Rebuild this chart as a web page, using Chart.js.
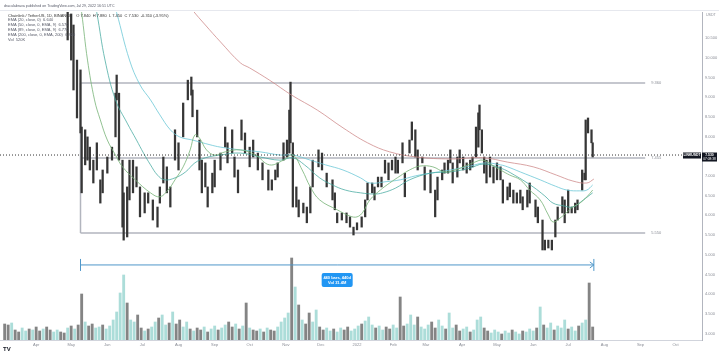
<!DOCTYPE html>
<html>
<head>
<meta charset="utf-8">
<script src="https://cdn.jsdelivr.net/npm/chart.js@4.4.1/dist/chart.umd.min.js"></script>
<style>
  html, body { margin: 0; padding: 0; background: #ffffff; overflow: hidden; }
</style>
</head>
<body>
<canvas id="priceChart" width="719" height="353"></canvas>
<script>
// days are counted from 2021-03-01 (day 0)
const candleDays = [58,61,63,66,69,70,73,75,77,80, 83,86,88,92,96,99,100,102,105,106,
  109,111,114,117,120,124,127,131,135,137, 140,143,146,150,153,157,161,164,165,169,
  171,173,176,178,182,184,189,193,195,199, 201,204,207,210,214,217,221,225,230,233,
  236,238,243,246,248,249,251,254,256,260, 263,266,268,273,276,280,285,287,289,293,
  297,300,303,306,310,313,315,319,321,324, 327,330,333,336,339,341,345,347,351,353,
  356,358,362,364,369,373,375,379,381,384, 386,388,392,394,397,400,403,405,408,410,
  411,413,415,417,420,423,426,429,431,435, 437,440,443,446,448,452,454,459,461,465,
  467,470,473,476,478,482,484,487,490,493, 495,499,501,502,504,507,508];
const candleHigh = [11.16,11.11,10.83,9.94,9.69,8.24,8.17,7.99,7.73,7.40, 7.84,6.90,7.15,7.48,7.73,9.10,9.56,9.10,7.40,6.57,
  6.72,7.40,7.40,7.23,6.72,6.57,6.57,6.39,6.21,6.72, 7.48,7.23,6.72,8.17,7.84,8.85,9.43,9.51,9.18,8.67,
  7.91,7.40,7.33,6.72,7.07,7.40,7.58,8.24,7.84,8.17, 7.48,7.15,8.42,8.09,7.73,7.91,7.58,7.33,7.15,6.90,
  7.15,7.33,7.84,7.91,8.67,9.38,7.84,6.72,6.39,6.31, 6.21,6.72,7.40,7.66,7.58,7.07,6.90,6.57,6.06,6.06,
  6.06,5.96,5.70,5.81,5.96,6.39,6.82,6.82,6.72,6.97, 6.97,7.40,7.33,7.40,7.48,7.40,7.84,7.07,7.91,8.37,
  8.17,7.66,7.48,7.23,7.15,6.64,6.97,7.15,7.33,7.40, 7.66,7.33,7.48,7.66,7.48,7.33,7.40,7.48,8.24,8.60,
  8.80,8.17,7.48,7.40,7.48,7.23,7.33,7.23,6.90,6.72, 6.82,6.64,6.57,6.64,6.47,6.64,6.82,6.39,6.21,5.88,
  5.37,5.37,5.37,5.88,6.21,6.47,6.39,6.64,6.21,6.31, 6.39,7.15,7.07,8.42,8.47,8.17,7.84];
const candleLow = [10.45,9.94,9.18,8.47,8.09,6.57,7.28,7.40,7.15,6.82, 7.15,6.31,6.57,7.07,7.40,7.99,8.93,7.40,5.70,5.37,
  5.45,6.39,6.57,6.72,5.96,6.06,6.31,5.88,5.70,6.31, 6.82,6.57,6.21,7.40,7.15,7.99,8.93,9.05,8.50,7.99,
  7.15,6.57,6.72,6.21,6.57,6.72,7.15,7.73,7.33,7.58, 6.97,6.57,7.91,7.58,7.23,7.48,7.15,6.90,6.64,6.64,
  6.90,6.97,7.40,7.48,7.58,7.84,6.21,6.21,5.96,6.06, 5.81,6.06,6.72,7.23,7.15,6.72,6.39,6.14,5.81,5.88,
  5.81,5.70,5.50,5.63,5.70,5.96,6.39,6.57,6.39,6.72, 6.72,7.07,6.90,7.15,7.07,7.07,7.33,6.47,7.58,7.91,
  7.48,7.15,7.33,6.64,6.57,5.96,6.39,6.90,7.07,7.07, 7.33,6.82,6.97,7.33,7.15,7.07,7.15,7.23,7.48,7.73,
  8.17,7.58,7.07,6.82,6.97,6.82,6.90,6.90,6.31,6.39, 6.47,6.31,6.31,6.31,6.14,6.21,6.31,5.96,5.81,5.12,
  5.12,5.17,5.12,5.45,5.88,6.06,5.81,6.06,6.06,6.06, 6.14,6.64,6.90,6.90,8.09,7.84,7.48];

// moving averages
const ema20Days = [67,70,75,81,86,92,99,105,116,129,137,144,150,157,163,167,171,177,184,193,206,219,231,243,251,259,266,274,289,300,
  306,311,317,326,334,343,351,360,371,381,390,399,407,414,423,429,437,446,454,463,470,474,480,486,491,497,503,508];
const ema20 = [11.72,11.14,9.94,8.93,8.42,7.91,7.53,7.23,6.90,6.57,6.47,6.64,6.90,7.23,7.66,8.04,7.96,7.66,7.53,7.61,7.66,7.53,7.28,7.40,7.53,7.15,6.72,6.39,6.14,5.98,
  5.96,6.08,6.39,6.64,6.82,7.00,7.15,7.25,7.23,7.10,7.15,7.25,7.35,7.40,7.25,7.15,7.02,6.90,6.64,6.39,6.01,5.83,5.93,6.08,6.21,6.31,6.47,6.64];
const ema50Days = [79,83,90,99,109,117,123,129,135,141,150,159,167,176,189,206,223,240,251,261,274,285,296,309,321,328,339,351,369,386,403,414,429,441,457,467,474,483,491,500,508];
const ema50 = [11.72,11.14,9.94,8.93,8.34,7.91,7.58,7.28,7.02,6.90,6.95,7.10,7.33,7.46,7.53,7.58,7.48,7.40,7.46,7.28,6.95,6.77,6.64,6.57,6.54,6.57,6.69,6.90,7.07,7.10,7.20,7.30,7.20,7.02,6.72,6.49,6.31,6.24,6.21,6.39,6.57];
const ema89Days = [94,100,111,120,129,137,146,154,165,180,189,206,223,240,251,266,279,294,309,317,330,343,356,369,386,403,416,429,435,446,463,476,486,497,503,508];
const ema89 = [11.72,11.14,9.94,9.31,8.93,8.55,8.17,7.99,7.91,7.79,7.73,7.66,7.61,7.53,7.53,7.40,7.28,7.15,6.95,6.82,6.85,6.90,7.00,7.07,7.15,7.25,7.33,7.28,7.23,7.10,6.90,6.74,6.64,6.62,6.64,6.77];
const ema200Days = [150,159,165,176,189,206,214,231,250,272,294,315,334,357,386,414,435,457,477,491,503,509];
const ema200 = [11.97,11.47,11.21,10.83,10.40,9.87,9.74,9.43,9.05,8.67,8.22,7.84,7.61,7.48,7.43,7.46,7.35,7.23,7.02,6.87,6.82,6.92];

// volume, one bar per 3-day period starting at day 4 (thousands)
const volStartDay = 4;
const volStepDays = 3;
const volume = [640,600,680,400,320,480,360,440,400,520, 360,440,520,400,320,400,320,280,480,560,
  440,600,1840,720,560,640,480,520,600,440, 560,800,1120,1880,2600,1480,800,720,1000,480,
  360,440,520,720,880,1000,600,680,1120,640, 800,520,720,440,360,480,400,520,320,440,
  560,400,480,600,720,520,640,440,560,1480, 480,400,360,440,320,480,400,360,520,720,
  880,1080,3280,2120,1400,800,640,1080,720,1200, 520,400,480,360,440,320,480,400,520,360,
  440,560,640,760,920,600,480,560,400,520, 440,600,480,1720,560,640,1000,600,920,520,
  440,600,720,480,800,560,440,1080,480,600, 360,440,520,320,400,800,920,480,360,280,
  400,320,240,360,280,400,320,240,360,320, 440,360,480,1320,600,480,680,400,560,480,
  800,440,520,360,560,680,800,2280,520];
const volDir = "ddudduudud" + "dudduuddud" + "uddudduudu" + "uuuuuduudd" + "uduuduudud" +
  "duududdudu" + "uduuddudud" + "uddududduu" + "uudududduu" + "dduuduuddu" +
  "uuduuuduud" + "duudduuudu" + "uudduuduud" + "duuduuuddu" + "uuduuduudu" +
  "uududuuduu" + "uduuduudd";

// axes
const priceMin = 2.835;
const priceMax = 11.16;
const volMax = 13120;
const dayMax = 601.7;
const priceTicks = [10.5,10.0,9.5,9.0,8.5,8.0,7.5,7.0,6.5,6.0,5.5,5.0,4.5,4.0,3.5,3.0];
const monthDays = [31,61,92,122,153,184,214,245,275,306,337,365,396,426,457,487,518,549,579];
const monthLabels = ["Apr","May","Jun","Jul","Aug","Sep","Oct","Nov","Dec","2022","Feb","Mar","Apr","May","Jun","Jul","Aug","Sep","Oct"];

// drawings
const rangeLevels = [9.36, 7.455, 5.55];
const rangeLabels = ["9.360", "7.455", "5.550"];
const rangeFromDay = 69;
const rangeToDay = 553;
const lastPrice = 7.53;
const measureFromDay = 69;
const measureToDay = 509;
const measurePrice = 4.74;
const measureText = ["440 bars, 440d", "Vol 31.4M"];

const headerText = "draculabrava published on TradingView.com, Jul 29, 2022 16:51 UTC";
const legendLines = [
  "Chainlink / TetherUS, 1D, BINANCE    O 7.840  H 7.880  L 7.450  C 7.530  -0.310 (-3.95%)",
  "EMA (20, close, 0)  6.640",
  "EMA (50, close, 0, EMA, 9)  6.570",
  "EMA (89, close, 0, EMA, 9)  6.770",
  "EMA (200, close, 0, EMA, 200)  6.920",
  "Vol  520K"
];

const FONT = "'Liberation Sans', Arial, sans-serif";

const overlayPlugin = {
  id: "overlay",
  beforeDatasetsDraw(chart) {
    const { ctx, scales } = chart;
    const x = scales.x, y = scales.y;
    const x0 = x.getPixelForValue(rangeFromDay);
    const x1 = x.getPixelForValue(rangeToDay);
    ctx.save();
    ctx.strokeStyle = "#b2b5be";
    ctx.lineWidth = 1.5;
    rangeLevels.forEach((lvl, i) => {
      const py = y.getPixelForValue(lvl);
      ctx.beginPath();
      ctx.moveTo(x0, py);
      ctx.lineTo(x1, py);
      ctx.stroke();
      ctx.fillStyle = "#8a8d96";
      ctx.font = "4px " + FONT;
      ctx.textBaseline = "middle";
      ctx.fillText(rangeLabels[i], x1 + 6, py);
    });
    ctx.beginPath();
    ctx.moveTo(x0, y.getPixelForValue(rangeLevels[0]));
    ctx.lineTo(x0, y.getPixelForValue(rangeLevels[2]));
    ctx.stroke();
    ctx.restore();
  },
  afterDatasetsDraw(chart) {
    const { ctx, chartArea, scales } = chart;
    const x = scales.x, y = scales.y;
    ctx.save();

    // last price dotted line
    const py = y.getPixelForValue(lastPrice);
    ctx.strokeStyle = "#333333";
    ctx.lineWidth = 1;
    ctx.setLineDash([1, 2]);
    ctx.beginPath();
    ctx.moveTo(chartArea.left, py);
    ctx.lineTo(chartArea.right, py);
    ctx.stroke();
    ctx.setLineDash([]);

    // date range measure
    const mx0 = x.getPixelForValue(measureFromDay);
    const mx1 = x.getPixelForValue(measureToDay);
    const my = y.getPixelForValue(measurePrice);
    ctx.strokeStyle = "#4f97c9";
    ctx.lineWidth = 1;
    ctx.beginPath();
    ctx.moveTo(mx0, my); ctx.lineTo(mx1, my);
    ctx.moveTo(mx0, my - 6); ctx.lineTo(mx0, my + 6);
    ctx.moveTo(mx1, my - 6); ctx.lineTo(mx1, my + 6);
    ctx.moveTo(mx1 - 4, my - 3); ctx.lineTo(mx1, my); ctx.lineTo(mx1 - 4, my + 3);
    ctx.stroke();

    const bw = 31, bh = 14;
    const bx = (mx0 + mx1) / 2 - bw / 2;
    const by = my + 8;
    ctx.fillStyle = "#2196f3";
    ctx.beginPath();
    ctx.roundRect(bx, by, bw, bh, 2);
    ctx.fill();
    ctx.fillStyle = "#ffffff";
    ctx.font = "bold 4px " + FONT;
    ctx.textAlign = "center";
    ctx.textBaseline = "middle";
    ctx.fillText(measureText[0], bx + bw / 2, by + 4.5);
    ctx.fillText(measureText[1], bx + bw / 2, by + 9.5);
    ctx.restore();
  },
  afterDraw(chart) {
    const { ctx, chartArea, scales } = chart;
    const y = scales.y;
    ctx.save();

    // header
    ctx.fillStyle = "#555866";
    ctx.font = "3.6px " + FONT;
    ctx.textBaseline = "middle";
    ctx.fillText(headerText, 4, 6);
    ctx.strokeStyle = "#e6e8ee";
    ctx.lineWidth = 1;
    ctx.beginPath();
    ctx.moveTo(0, 10.5);
    ctx.lineTo(719, 10.5);
    ctx.stroke();

    // legend
    ctx.font = "4px " + FONT;
    legendLines.forEach((t, i) => {
      ctx.fillStyle = i === 0 ? "#333333" : "#555866";
      ctx.fillText(t, 8, 15.5 + i * 4.8);
    });

    // axis currency
    ctx.fillStyle = "#8a8d96";
    ctx.font = "3.6px " + FONT;
    ctx.fillText("USDT", 706, 15);

    // last price boxes
    const py = y.getPixelForValue(lastPrice);
    ctx.fillStyle = "#131722";
    ctx.fillRect(683, py - 2.5, 18, 6);
    ctx.fillRect(chartArea.right, py - 2.5, 15, 9);
    ctx.fillStyle = "#ffffff";
    ctx.font = "bold 3.4px " + FONT;
    ctx.textAlign = "center";
    ctx.fillText("LINKUSDT", 692, py + 0.5);
    ctx.fillText(lastPrice.toFixed(3), chartArea.right + 7.5, py + 0.5);
    ctx.font = "3.2px " + FONT;
    ctx.fillText("07:08:38", chartArea.right + 7.5, py + 4.5);

    // logo
    ctx.textAlign = "left";
    ctx.fillStyle = "#131722";
    ctx.font = "bold 6px " + FONT;
    ctx.fillText("TV", 3, 349);
    ctx.restore();
  }
};

const ctxEl = document.getElementById("priceChart").getContext("2d");

function series(days, values) {
  return days.map((d, i) => ({ x: d, y: values[i] }));
}

function maLine(label, days, values, color, order) {
  return {
    type: "line",
    label: label,
    data: series(days, values),
    yAxisID: "y",
    borderColor: color,
    borderWidth: 0.9,
    pointRadius: 0,
    tension: 0.4,
    fill: false,
    order: order,
  };
}

new Chart(ctxEl, {
  type: "line",
  data: {
    datasets: [
      {
        type: "bar",
        label: "Vol",
        yAxisID: "yv",
        data: volume.map((v, i) => ({ x: volStartDay + volStepDays * i, y: v })),
        backgroundColor: volume.map((v, i) => volDir[i] === "u" ? "rgba(38,166,154,0.38)" : "rgba(85,85,85,0.72)"),
        barThickness: 2.2,
        grouped: false,
        order: 6,
      },
      {
        type: "bar",
        label: "Price",
        yAxisID: "y",
        data: candleDays.map((d, i) => ({ x: d, y: [candleLow[i], candleHigh[i]] })),
        backgroundColor: "#363636",
        barThickness: 1.6,
        grouped: false,
        order: 5,
      },
      maLine("EMA 200", ema200Days, ema200, "rgba(205,135,135,0.85)", 4),
      maLine("EMA 89", ema89Days, ema89, "rgba(110,200,215,0.9)", 3),
      maLine("EMA 50", ema50Days, ema50, "rgba(70,170,160,0.85)", 2),
      maLine("EMA 20", ema20Days, ema20, "rgba(120,180,120,0.9)", 1),
    ],
  },
  options: {
    responsive: false,
    devicePixelRatio: 1,
    animation: false,
    layout: { padding: { top: 12, left: 0, right: 0, bottom: 0 } },
    plugins: {
      legend: { display: false },
      tooltip: { enabled: false },
    },
    scales: {
      x: {
        type: "linear",
        min: 0,
        max: dayMax,
        offset: false,
        grid: { display: false, drawTicks: false },
        border: { display: true, color: "#d1d4dc" },
        afterBuildTicks: (scale) => {
          scale.ticks = monthDays.map((v) => ({ value: v }));
        },
        afterFit: (scale) => {
          scale.height = 13;
        },
        ticks: {
          autoSkip: false,
          maxRotation: 0,
          minRotation: 0,
          padding: 2,
          color: "#8a8d96",
          font: { size: 4, family: FONT },
          callback: (value, index) => monthLabels[index],
        },
      },
      y: {
        type: "linear",
        position: "right",
        min: priceMin,
        max: priceMax,
        grid: { display: false, drawTicks: false },
        border: { display: true, color: "#b2b5be" },
        afterBuildTicks: (scale) => {
          scale.ticks = priceTicks.map((v) => ({ value: v }));
        },
        afterFit: (scale) => {
          scale.width = 17;
        },
        ticks: {
          autoSkip: false,
          padding: 3,
          color: "#8a8d96",
          font: { size: 4, family: FONT },
          callback: (value) => Number(value).toFixed(3),
        },
      },
      yv: {
        type: "linear",
        display: false,
        min: 0,
        max: volMax,
      },
    },
  },
  plugins: [overlayPlugin],
});
</script>
</body>
</html>
